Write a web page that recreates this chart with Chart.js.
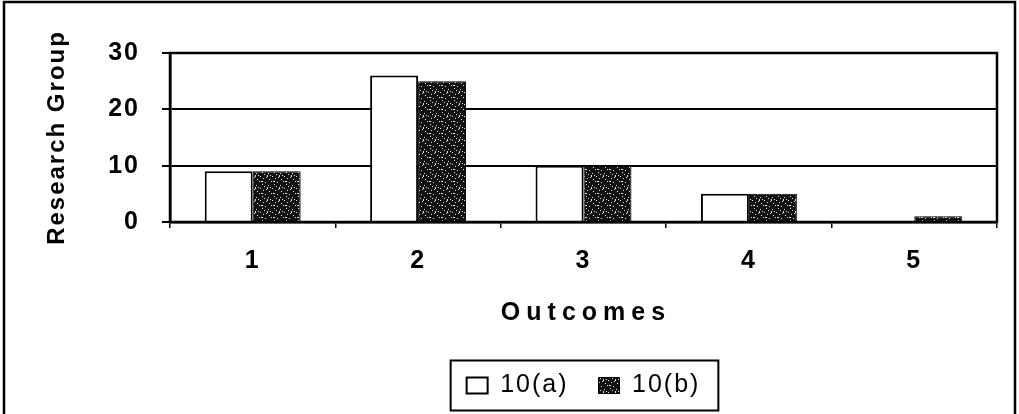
<!DOCTYPE html>
<html>
<head>
<meta charset="utf-8">
<script src="https://cdn.jsdelivr.net/npm/chart.js@4/dist/chart.umd.min.js"></script>
<style>
  html,body{margin:0;padding:0;background:#fff;}
  #wrap{width:1019px;height:414px;position:relative;}
</style>
</head>
<body>
<div id="wrap"><canvas id="c" width="1019" height="414"></canvas></div>
<script>
// outcome categories and the two research groups
const outcomes = ['1', '2', '3', '4', '5'];
const group10a = [9, 26, 10, 5, 0];
const group10b = [9, 25, 10, 5, 1];
const yTicks = [0, 10, 20, 30];

const FONT = '"Liberation Sans", Arial, sans-serif';

// dark speckled fill for the second group
function speckle(){
  const t = document.createElement('canvas');
  t.width = 12; t.height = 12;
  const g = t.getContext('2d');
  g.fillStyle = '#111';
  g.fillRect(0, 0, 12, 12);
  g.fillStyle = '#e6e6e6';
  [[1,2],[7,1],[4,5],[10,4],[2,9],[8,8],[5,11],[11,10],[0,6],[6,7]].forEach(p => g.fillRect(p[0], p[1], 1, 1));
  g.fillRect(9, 1, 2, 1);
  g.fillRect(3, 7, 1, 2);
  return g.createPattern(t, 'repeat');
}

// slightly spaced lettering everywhere, as in the old spreadsheet output
const spacing = {
  id: 'spacing',
  beforeUpdate(chart){ chart.ctx.letterSpacing = '2px'; },
  beforeDraw(chart){ chart.ctx.letterSpacing = '2px'; }
};

// frame, plot box, x title and legend border
const decor = {
  id: 'decor',
  afterDraw(chart){
    const ctx = chart.ctx, a = chart.chartArea;
    ctx.save();
    ctx.strokeStyle = '#000';
    ctx.lineWidth = 2.5;
    ctx.strokeRect(a.left, a.top, a.right - a.left, a.bottom - a.top);

    // outer frame (open at the bottom edge)
    ctx.beginPath();
    ctx.moveTo(4, 414); ctx.lineTo(4, 2); ctx.lineTo(1015, 2); ctx.lineTo(1015, 414);
    ctx.stroke();

    ctx.fillStyle = '#000';
    ctx.font = 'bold 25px ' + FONT;
    ctx.letterSpacing = '6px';
    ctx.textAlign = 'center';
    ctx.textBaseline = 'middle';
    ctx.fillText('Outcomes', 586, 313);

    const hb = chart.legend.legendHitBoxes;
    if (hb && hb.length){
      const last = hb[hb.length - 1];
      const cy = hb[0].top + hb[0].height / 2;
      const x0 = hb[0].left - 16, x1 = last.left + last.width + 18;
      ctx.lineWidth = 2;
      ctx.strokeRect(x0, cy - 25, x1 - x0, 50);
    }
    ctx.restore();
  }
};

new Chart(document.getElementById('c'), {
  type: 'bar',
  data: {
    labels: outcomes,
    datasets: [
      {label: '10(a)', data: group10a, backgroundColor: '#fff', borderColor: '#000', borderWidth: 2},
      {label: '10(b)', data: group10b, backgroundColor: speckle(), borderColor: '#000', borderWidth: 1}
    ]
  },
  options: {
    responsive: false,
    animation: false,
    devicePixelRatio: 1,
    layout: {padding: {left: 0, right: 22, top: 53, bottom: 6}},
    categoryPercentage: 0.58,
    barPercentage: 1,
    plugins: {
      legend: {
        position: 'bottom',
        fullSize: false,
        labels: {
          color: '#000',
          font: {family: FONT, size: 25},
          boxWidth: 21,
          boxHeight: 16,
          padding: 30
        }
      },
      tooltip: {enabled: false}
    },
    scales: {
      x: {
        offset: true,
        grid: {display: true, drawOnChartArea: false, offset: true, color: '#000', tickLength: 6, lineWidth: 1.5},
        border: {color: '#000', width: 2.5},
        ticks: {color: '#000', font: {family: FONT, size: 25, weight: 'bold'}, padding: 18},
        afterFit(s){ s.height = 121; }
      },
      y: {
        min: 0, max: 30,
        afterBuildTicks(s){ s.ticks = yTicks.map(v => ({value: v})); },
        grid: {color: '#000', lineWidth: 2, tickLength: 8},
        border: {color: '#000', width: 2.5},
        ticks: {color: '#000', font: {family: FONT, size: 25, weight: 'bold'}, padding: 22},
        title: {display: true, text: 'Research Group', color: '#000', font: {family: FONT, size: 24, weight: 'bold'}, padding: {top: 43, bottom: 0}},
        afterFit(s){ s.width = 170; }
      }
    }
  },
  plugins: [spacing, decor]
});
</script>
</body>
</html>
